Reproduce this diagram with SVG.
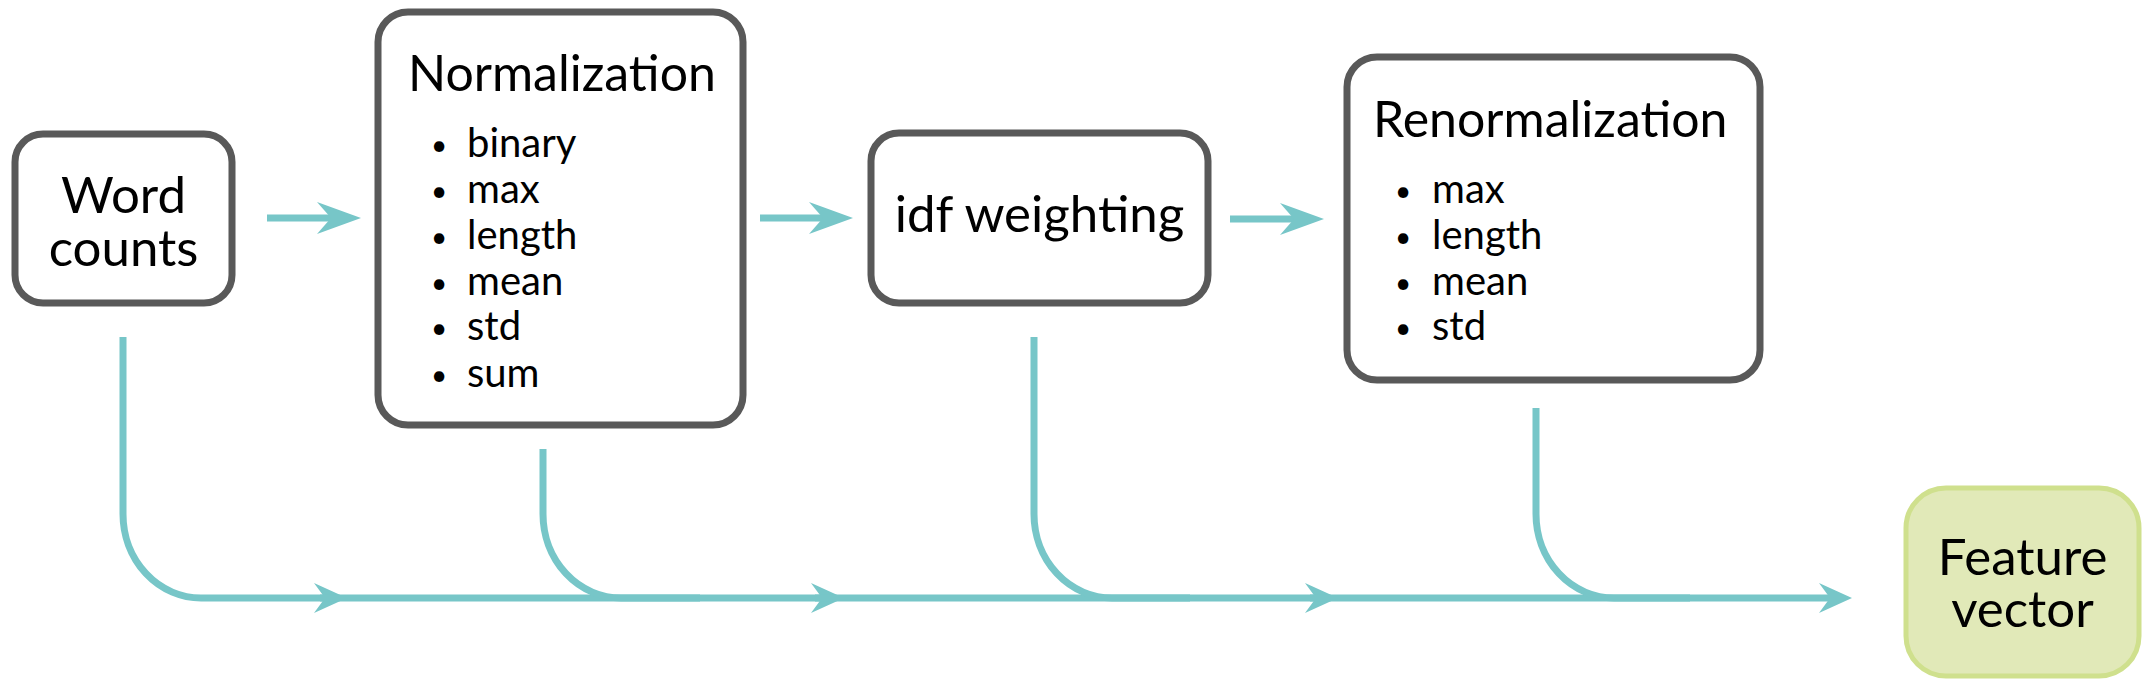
<svg xmlns="http://www.w3.org/2000/svg" width="2152" height="687" viewBox="0 0 2152 687">
<style>
.box{fill:#ffffff;stroke:#595959;stroke-width:7}
.out{fill:#e1e9b8;stroke:#cfe08d;stroke-width:5}
.t{font-family:Lato,"Open Sans",sans-serif;fill:#000000}
.h{font-size:51px;text-anchor:middle}
.li{font-size:40px}
.b{font-size:28px;text-anchor:middle}
.c{fill:none;stroke:#77c6c8;stroke-width:7}
</style>
<defs>
<marker id="ah" markerUnits="userSpaceOnUse" viewBox="-44 -17 44 34" markerWidth="44" markerHeight="34" refX="-30" refY="0" orient="auto">
<path d="M0,0 L-44,-16 L-30,0 L-44,16 Z" fill="#77c6c8"/>
</marker>
<marker id="as" markerUnits="userSpaceOnUse" viewBox="-34 -16 34 32" markerWidth="34" markerHeight="32" refX="-22" refY="0" orient="auto">
<path d="M0,0 L-33,-15 L-22,0 L-33,15 Z" fill="#77c6c8"/>
</marker>
</defs>
<g id="connectors">
<path class="c" d="M267,218 H331" marker-end="url(#ah)"/>
<path class="c" d="M760,218 H823" marker-end="url(#ah)"/>
<path class="c" d="M1230,219 H1294" marker-end="url(#ah)"/>
<path class="c" d="M123,337 V514 A78,84 0 0 0 201,598 H325" marker-end="url(#as)"/>
<path class="c" d="M320,598 H822" marker-end="url(#as)"/>
<path class="c" d="M815,598 H1316" marker-end="url(#as)"/>
<path class="c" d="M1310,598 H1830" marker-end="url(#as)"/>
<path class="c" d="M543,449 V514 A78,84 0 0 0 621,598 H700"/>
<path class="c" d="M1034,337 V514 A78,84 0 0 0 1112,598 H1190"/>
<path class="c" d="M1536,408 V514 A78,84 0 0 0 1614,598 H1690"/>
</g>
<g id="word-counts">
<rect class="box" x="15" y="134" width="217" height="169" rx="28"/>
<text class="t h" x="123.5" y="213">Word</text>
<text class="t h" x="123.5" y="266">counts</text>
</g>
<g id="normalization">
<rect class="box" x="378" y="12" width="365" height="413" rx="30"/>
<text class="t" x="408" y="91" font-size="50">Normalization</text>
<text class="t b"><tspan x="439" y="155">•</tspan><tspan x="439" y="201">•</tspan><tspan x="439" y="247">•</tspan><tspan x="439" y="293">•</tspan><tspan x="439" y="338">•</tspan><tspan x="439" y="385">•</tspan></text>
<text class="t li"><tspan x="467" y="157">binary</tspan><tspan x="467" y="203">max</tspan><tspan x="467" y="249">length</tspan><tspan x="467" y="295">mean</tspan><tspan x="467" y="340">std</tspan><tspan x="467" y="387">sum</tspan></text>
</g>
<g id="idf-weighting">
<rect class="box" x="871" y="133" width="337" height="170" rx="28"/>
<text class="t h" x="1039.5" y="232">idf weighting</text>
</g>
<g id="renormalization">
<rect class="box" x="1347" y="57" width="413" height="323" rx="30"/>
<text class="t" x="1373" y="137" font-size="50">Renormalization</text>
<text class="t b"><tspan x="1403" y="201">•</tspan><tspan x="1403" y="247">•</tspan><tspan x="1403" y="293">•</tspan><tspan x="1403" y="338">•</tspan></text>
<text class="t li"><tspan x="1432" y="203">max</tspan><tspan x="1432" y="249">length</tspan><tspan x="1432" y="295">mean</tspan><tspan x="1432" y="340">std</tspan></text>
</g>
<g id="feature-vector">
<rect class="out" x="1906" y="488" width="233" height="188" rx="40"/>
<text class="t h" x="2022.5" y="575" font-size="48">Feature</text>
<text class="t h" x="2022.5" y="627" font-size="48">vector</text>
</g>
</svg>
